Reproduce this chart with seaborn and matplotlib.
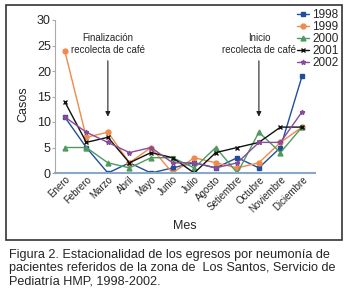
import matplotlib
matplotlib.use("Agg")
import matplotlib.pyplot as plt
import seaborn as sns
import pandas as pd
from matplotlib.patches import Rectangle

# data
meses = ["Enero", "Febrero", "Marzo", "Abril", "Mayo", "Junio", "Julio",
         "Agosto", "Setiembre", "Octubre", "Noviembre", "Diciembre"]
y1998 = [11, 5, 0, 2, 0, 1, 2, 1, 3, 1, 5, 19]
y1999 = [24, 7, 8, 2, 5, 0, 3, 2, 1, 2, 6, 9]
y2000 = [5, 5, 2, 1, 3, 3, 1, 5, 0, 8, 4, 9]
y2001 = [14, 6, 7, 2, 4, 3, 0, 4, 5, 6, 9, 9]
y2002 = [11, 8, 6, 4, 5, 2, 2, 1, 2, 6, 6, 12]

anios = ["1998", "1999", "2000", "2001", "2002"]
colores = ["#1f4f9a", "#f08a4b", "#4f9a5f", "#111111", "#8a4a9a"]
marcadores = ["s", "o", "^", "x", "*"]

df = pd.DataFrame({"Mes": meses, "1998": y1998, "1999": y1999,
                   "2000": y2000, "2001": y2001, "2002": y2002})
largo = df.melt(id_vars="Mes", var_name="Año", value_name="Casos")
largo["x"] = largo["Mes"].map({m: i for i, m in enumerate(meses)})

sns.set_style("white")
plt.rcParams["font.family"] = ["Liberation Sans", "DejaVu Sans"]

fig = plt.figure(figsize=(3.48, 2.93), dpi=100)
# outer frame
fig.patches.append(Rectangle((6 / 348, 1 - 240 / 293), 336 / 348, 235 / 293,
                             transform=fig.transFigure, fill=False,
                             edgecolor="#333333", lw=1.2))

ax = fig.add_axes([55 / 348, 1 - 173 / 293, 260 / 348, 153 / 293])
for anio, col, mk in zip(anios, colores, marcadores):
    sub = largo[largo["Año"] == anio]
    sns.lineplot(data=sub, x="x", y="Casos", color=col, marker=mk,
                 markersize=3.5, linewidth=1.0, markeredgewidth=1,
                 markeredgecolor=col, label=anio, ax=ax)

ax.set_xlim(-0.45, 11.6)
ax.set_ylim(0, 30)
ax.set_yticks([0, 5, 10, 15, 20, 25, 30])
ax.set_xticks(range(12))
ax.set_xticklabels(meses, rotation=45, ha="right", rotation_mode="anchor")
ax.tick_params(axis="x", labelsize=7, pad=1, length=0)
ax.tick_params(axis="y", labelsize=9, pad=1, length=2, left=True, color="#aaaaaa")
ax.set_ylabel("Casos", fontsize=9)
ax.yaxis.set_label_coords(-0.10, 0.45)
ax.set_xlabel("Mes", fontsize=9)
ax.xaxis.set_label_coords(0.5, -0.31)
for s in ["top", "right"]:
    ax.spines[s].set_visible(False)
ax.spines["left"].set_color("#aaaaaa")
ax.spines["bottom"].set_color("#8aa8c8")
ax.spines["bottom"].set_linestyle((0, (1, 1)))
ax.spines["bottom"].set_linewidth(1.5)

leg = ax.legend(loc="upper left", bbox_to_anchor=(0.93, 1.07), frameon=False,
                fontsize=8.5, handlelength=1.0, handletextpad=0.3,
                labelspacing=0.0, borderaxespad=0, borderpad=0)

ax.annotate("Finalización\nrecolecta de café", xy=(2, 10.5), xytext=(2, 25.3),
            ha="center", va="center", fontsize=7,
            arrowprops=dict(arrowstyle="-|>", color="#222222", lw=0.8))
ax.annotate("Inicio\nrecolecta de café", xy=(9, 10.5), xytext=(9, 25.3),
            ha="center", va="center", fontsize=7,
            arrowprops=dict(arrowstyle="-|>", color="#222222", lw=0.8))

fig.text(9 / 348, 1 - 268 / 293,
         "Figura 2. Estacionalidad de los egresos por neumonía de\n"
         "pacientes referidos de la zona de  Los Santos, Servicio de\n"
         "Pediatría HMP, 1998-2002.",
         fontsize=9.1, va="center", ha="left", linespacing=1.12)

fig.savefig("out.png", dpi=100)
